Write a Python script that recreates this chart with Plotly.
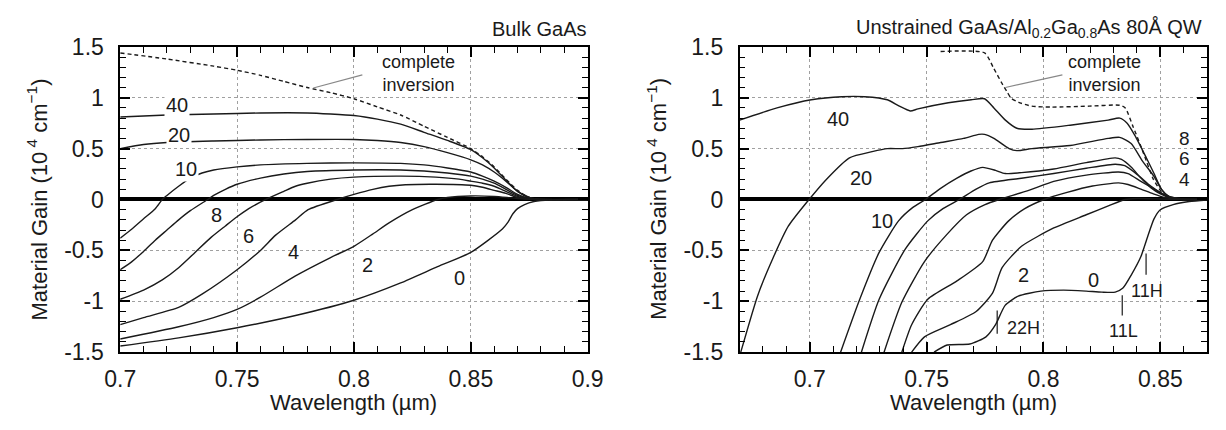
import plotly.graph_objects as go

# ---------------- DATA: left panel (Bulk GaAs) ----------------
L_inv_x = [0.70, 0.72, 0.74, 0.75, 0.76, 0.77, 0.78, 0.79, 0.80, 0.81, 0.82, 0.83, 0.84, 0.85, 0.855, 0.86, 0.865, 0.87, 0.875, 0.88, 0.90]
L_inv_y = [1.44, 1.38, 1.31, 1.27, 1.22, 1.16, 1.10, 1.05, 0.99, 0.91, 0.83, 0.72, 0.61, 0.50, 0.42, 0.32, 0.20, 0.09, 0.02, 0.0, 0.0]

L40_x = [0.70, 0.72, 0.74, 0.76, 0.78, 0.79, 0.80, 0.81, 0.82, 0.83, 0.84, 0.85, 0.855, 0.86, 0.865, 0.87, 0.875, 0.88, 0.90]
L40_y = [0.81, 0.83, 0.84, 0.85, 0.85, 0.84, 0.825, 0.79, 0.74, 0.66, 0.58, 0.49, 0.41, 0.31, 0.19, 0.08, 0.02, 0.0, 0.0]

L20_x = [0.70, 0.71, 0.72, 0.74, 0.76, 0.78, 0.80, 0.81, 0.82, 0.83, 0.84, 0.85, 0.855, 0.86, 0.865, 0.87, 0.875, 0.88, 0.90]
L20_y = [0.50, 0.54, 0.56, 0.575, 0.585, 0.59, 0.59, 0.58, 0.56, 0.52, 0.46, 0.39, 0.34, 0.27, 0.18, 0.08, 0.02, 0.0, 0.0]

L10_x = [0.70, 0.705, 0.71, 0.715, 0.718, 0.72, 0.725, 0.73, 0.735, 0.74, 0.75, 0.76, 0.78, 0.80, 0.82, 0.83, 0.84, 0.85, 0.855, 0.86, 0.865, 0.87, 0.875, 0.88, 0.90]
L10_y = [-0.38, -0.29, -0.19, -0.09, 0.0, 0.04, 0.13, 0.21, 0.26, 0.29, 0.32, 0.34, 0.355, 0.36, 0.355, 0.34, 0.31, 0.27, 0.23, 0.18, 0.12, 0.05, 0.01, 0.0, 0.0]

L8_x = [0.70, 0.705, 0.71, 0.715, 0.72, 0.725, 0.73, 0.7374, 0.74, 0.745, 0.75, 0.76, 0.77, 0.78, 0.80, 0.82, 0.83, 0.84, 0.85, 0.855, 0.86, 0.865, 0.87, 0.875, 0.88, 0.90]
L8_y = [-0.69, -0.61, -0.51, -0.40, -0.30, -0.20, -0.11, 0.0, 0.04, 0.10, 0.15, 0.21, 0.25, 0.275, 0.29, 0.29, 0.28, 0.26, 0.23, 0.20, 0.16, 0.10, 0.04, 0.01, 0.0, 0.0]

L6_x = [0.70, 0.71, 0.718, 0.725, 0.732, 0.739, 0.745, 0.75, 0.755, 0.7623, 0.77, 0.775, 0.78, 0.79, 0.80, 0.82, 0.835, 0.845, 0.85, 0.855, 0.86, 0.865, 0.87, 0.875, 0.88, 0.90]
L6_y = [-0.98, -0.89, -0.79, -0.67, -0.52, -0.37, -0.26, -0.17, -0.09, 0.0, 0.08, 0.13, 0.16, 0.20, 0.22, 0.23, 0.22, 0.20, 0.18, 0.16, 0.13, 0.08, 0.03, 0.01, 0.0, 0.0]

L4_x = [0.70, 0.71, 0.725, 0.735, 0.75, 0.76, 0.7665, 0.775, 0.7804, 0.7928, 0.80, 0.8081, 0.815, 0.822, 0.835, 0.85, 0.855, 0.86, 0.865, 0.87, 0.875, 0.88, 0.90]
L4_y = [-1.23, -1.16, -1.06, -0.93, -0.69, -0.50, -0.35, -0.20, -0.10, 0.0, 0.05, 0.10, 0.13, 0.145, 0.15, 0.14, 0.12, 0.09, 0.06, 0.02, 0.005, 0.0, 0.0]

L2_x = [0.70, 0.725, 0.74, 0.75, 0.76, 0.775, 0.79, 0.80, 0.808, 0.815, 0.825, 0.8358, 0.84, 0.85, 0.86, 0.87, 0.88, 0.90]
L2_y = [-1.37, -1.25, -1.16, -1.08, -0.96, -0.75, -0.57, -0.46, -0.34, -0.23, -0.10, 0.0, 0.02, 0.035, 0.03, 0.01, 0.0, 0.0]

L0_x = [0.70, 0.725, 0.75, 0.775, 0.80, 0.82, 0.8358, 0.85, 0.8635, 0.866, 0.868, 0.87, 0.873, 0.877, 0.88, 0.89, 0.90]
L0_y = [-1.44, -1.36, -1.26, -1.14, -0.99, -0.82, -0.66, -0.52, -0.29, -0.22, -0.14, -0.09, -0.05, -0.02, -0.01, 0.0, 0.0]

L_labels = ["40", "20", "10", "8", "6", "4", "2", "0"]
L_label_x = [0.7243, 0.7251, 0.7283, 0.7413, 0.7551, 0.7741, 0.806, 0.8452]
L_label_y = [0.93, 0.63, 0.30, -0.15, -0.36, -0.52, -0.64, -0.77]

# ---------------- DATA: right panel (QW) ----------------
R_inv_x = [0.756, 0.7748, 0.7788, 0.7821, 0.7845, 0.7862, 0.7894, 0.795, 0.8033, 0.8195, 0.8326, 0.835, 0.8383, 0.8415, 0.844, 0.847, 0.8505, 0.8537, 0.86, 0.87]
R_inv_y = [1.454, 1.44, 1.285, 1.147, 1.055, 0.994, 0.954, 0.917, 0.908, 0.917, 0.926, 0.90, 0.718, 0.534, 0.38, 0.20, 0.074, 0.012, 0.0, 0.0]

R40_x = [0.67, 0.686, 0.7007, 0.7137, 0.7235, 0.7332, 0.7381, 0.743, 0.7463, 0.7593, 0.7691, 0.7748, 0.7788, 0.7837, 0.7886, 0.7951, 0.8114, 0.8277, 0.8326, 0.8358, 0.8391, 0.844, 0.8472, 0.8505, 0.8537, 0.86, 0.87]
R40_y = [0.78, 0.90, 0.98, 1.01, 1.01, 0.98, 0.92, 0.87, 0.89, 0.95, 0.98, 0.99, 0.90, 0.78, 0.70, 0.69, 0.73, 0.78, 0.80, 0.75, 0.63, 0.41, 0.26, 0.10, 0.03, 0.005, 0.0]

R20_x = [0.6705, 0.6778, 0.6844, 0.6909, 0.699, 0.7072, 0.717, 0.7267, 0.7332, 0.7397, 0.7463, 0.756, 0.7658, 0.7723, 0.7748, 0.7788, 0.7853, 0.7886, 0.7951, 0.8114, 0.8277, 0.8326, 0.8375, 0.8423, 0.8472, 0.8505, 0.8537, 0.86, 0.87]
R20_y = [-1.5, -0.94, -0.57, -0.26, -0.02, 0.20, 0.41, 0.47, 0.50, 0.50, 0.52, 0.56, 0.60, 0.64, 0.64, 0.60, 0.50, 0.48, 0.50, 0.53, 0.60, 0.61, 0.55, 0.38, 0.23, 0.10, 0.03, 0.005, 0.0]

R10_x = [0.7132, 0.7214, 0.7297, 0.738, 0.744, 0.7495, 0.756, 0.763, 0.769, 0.774, 0.7795, 0.7836, 0.7906, 0.8044, 0.8183, 0.8307, 0.8334, 0.8376, 0.8417, 0.8459, 0.85, 0.8555, 0.86, 0.87]
R10_y = [-1.5, -0.98, -0.52, -0.21, -0.08, 0.0, 0.11, 0.21, 0.28, 0.316, 0.286, 0.255, 0.264, 0.30, 0.362, 0.409, 0.393, 0.316, 0.21, 0.117, 0.056, 0.01, 0.0, 0.0]

R8_x = [0.7221, 0.7297, 0.7408, 0.7505, 0.757, 0.764, 0.7712, 0.7768, 0.7906, 0.8044, 0.8183, 0.8307, 0.8348, 0.8404, 0.8459, 0.85, 0.8555, 0.86, 0.87]
R8_y = [-1.5, -0.98, -0.49, -0.21, -0.09, 0.0, 0.102, 0.163, 0.209, 0.255, 0.307, 0.347, 0.332, 0.24, 0.132, 0.071, 0.01, 0.0, 0.0]

R6_x = [0.7318, 0.7394, 0.7491, 0.7588, 0.7671, 0.775, 0.781, 0.7934, 0.8044, 0.8183, 0.8321, 0.8362, 0.8417, 0.8473, 0.852, 0.857, 0.86, 0.87]
R6_y = [-1.5, -1.01, -0.61, -0.34, -0.15, -0.05, 0.0, 0.087, 0.178, 0.24, 0.27, 0.255, 0.178, 0.102, 0.04, 0.01, 0.0, 0.0]

R4_x = [0.7394, 0.7436, 0.7505, 0.763, 0.774, 0.7782, 0.7851, 0.792, 0.8003, 0.8101, 0.821, 0.8321, 0.8362, 0.8417, 0.847, 0.852, 0.857, 0.86, 0.87]
R4_y = [-1.5, -1.23, -0.98, -0.80, -0.61, -0.40, -0.21, -0.09, 0.0, 0.07, 0.132, 0.163, 0.147, 0.102, 0.056, 0.02, 0.005, 0.0, 0.0]

R2_x = [0.7436, 0.7491, 0.7602, 0.7712, 0.7782, 0.7823, 0.7906, 0.8044, 0.8183, 0.828, 0.8349, 0.84, 0.85, 0.86, 0.87]
R2_y = [-1.5, -1.35, -1.23, -1.10, -0.92, -0.67, -0.46, -0.28, -0.15, -0.06, 0.0, 0.01, 0.005, 0.0, 0.0]

R0_x = [0.7532, 0.7588, 0.7685, 0.7754, 0.7795, 0.7836, 0.7892, 0.7989, 0.8086, 0.8183, 0.825, 0.8307, 0.834, 0.8376, 0.8417, 0.8445, 0.8473, 0.85, 0.8555, 0.8624, 0.87]
R0_y = [-1.5, -1.43, -1.42, -1.35, -1.23, -1.04, -0.95, -0.90, -0.89, -0.90, -0.91, -0.91, -0.87, -0.74, -0.56, -0.37, -0.19, -0.10, -0.05, -0.02, -0.005]

R_labels = ["40", "20", "10", "2", "0", "8", "6", "4"]
R_label_x = [0.712, 0.7218, 0.7311, 0.7913, 0.8212, 0.8605, 0.8605, 0.8605]
R_label_y = [0.79, 0.21, -0.21, -0.74, -0.79, 0.60, 0.40, 0.20]

# transition markers (22H, 11L, 11H)
mark_names = ["22H", "11L", "11H"]
mark_x = [0.7802, 0.8337, 0.8439]
mark_top = [-1.09, -0.94, -0.53]
mark_bot = [-1.32, -1.14, -0.74]
mark_label_x = [0.7913, 0.8342, 0.8443]
mark_label_y = [-1.26, -1.29, -0.895]

# axis ticks
L_xticks = [0.7, 0.75, 0.8, 0.85, 0.9]
L_xticktext = ["0.7", "0.75", "0.8", "0.85", "0.9"]
R_xticks = [0.7, 0.75, 0.8, 0.85]
R_xticktext = ["0.7", "0.75", "0.8", "0.85"]
yticks = [-1.5, -1.0, -0.5, 0.0, 0.5, 1.0, 1.5]
yticktext = ["-1.5", "-1", "-0.5", "0", "0.5", "1", "1.5"]

# ---------------- FIGURE ----------------
FONT = "Liberation Sans, Arial, Helvetica, sans-serif"
INK = "#1a1a1a"
W, H = 1226, 430

fig = go.Figure()

def curve(x, y, xa, ya, dash=None):
    fig.add_trace(go.Scatter(x=x, y=y, xaxis=xa, yaxis=ya, mode="lines",
                             line=dict(color=INK, width=1.4, dash=dash, shape="spline", smoothing=0.6),
                             hoverinfo="skip", showlegend=False))

for xs, ys in [(L40_x, L40_y), (L20_x, L20_y), (L10_x, L10_y), (L8_x, L8_y),
               (L6_x, L6_y), (L4_x, L4_y), (L2_x, L2_y), (L0_x, L0_y)]:
    curve(xs, ys, "x", "y")
curve(L_inv_x, L_inv_y, "x", "y", dash="4px,3px")

for xs, ys in [(R40_x, R40_y), (R20_x, R20_y), (R10_x, R10_y), (R8_x, R8_y),
               (R6_x, R6_y), (R4_x, R4_y), (R2_x, R2_y), (R0_x, R0_y)]:
    curve(xs, ys, "x2", "y2")
curve(R_inv_x, R_inv_y, "x2", "y2", dash="4px,3px")

# marker ticks
for mx, mt, mb in zip(mark_x, mark_top, mark_bot):
    fig.add_trace(go.Scatter(x=[mx, mx], y=[mt, mb], xaxis="x2", yaxis="y2", mode="lines",
                             line=dict(color=INK, width=1.2), hoverinfo="skip", showlegend=False))

# pointer lines for "complete inversion"
ptr_L_x = [0.8036, 0.7826]
ptr_L_y = [1.224, 1.095]
ptr_R_x = [0.8081, 0.7837]
ptr_R_y = [1.224, 1.10]
fig.add_trace(go.Scatter(x=ptr_L_x, y=ptr_L_y, xaxis="x", yaxis="y", mode="lines",
                         line=dict(color="#888", width=1.2), hoverinfo="skip", showlegend=False))
fig.add_trace(go.Scatter(x=ptr_R_x, y=ptr_R_y, xaxis="x2", yaxis="y2", mode="lines",
                         line=dict(color="#888", width=1.2), hoverinfo="skip", showlegend=False))

def xax(rng, tv, tt, domain):
    return dict(domain=domain, range=rng, tickvals=tv, ticktext=tt,
                ticks="inside", ticklen=10, tickwidth=1.5, tickcolor="black",
                showline=True, linecolor="black", linewidth=1.5, mirror="allticks",
                showgrid=True, gridcolor="#a0a0a0", griddash="dot", gridwidth=1,
                zeroline=False, tickfont=dict(family=FONT, size=23, color=INK),
                ticklabelstandoff=5,
                minor=dict(dtick=0.01, tick0=0.7, ticks="inside", ticklen=6,
                           tickcolor="black", tickwidth=1.2, showgrid=False))

def yax(domain):
    return dict(domain=domain, range=[-1.5, 1.5], tickvals=yticks, ticktext=yticktext,
                ticks="inside", ticklen=10, tickwidth=1.5, tickcolor="black",
                showline=True, linecolor="black", linewidth=1.5, mirror="allticks",
                showgrid=True, gridcolor="#a0a0a0", griddash="dot", gridwidth=1,
                zeroline=True, zerolinecolor="black", zerolinewidth=3.5,
                tickfont=dict(family=FONT, size=23, color=INK),
                ticklabelstandoff=10,
                minor=dict(dtick=0.1, tick0=0, ticks="inside", ticklen=6,
                           tickcolor="black", tickwidth=1.2, showgrid=False))

ydom = [1 - 361 / H, 1 - 36 / H]
fig.update_layout(
    width=W, height=H, margin=dict(l=0, r=0, t=0, b=0),
    paper_bgcolor="white", plot_bgcolor="white", showlegend=False,
    xaxis=xax([0.7, 0.9], L_xticks, L_xticktext, [107 / W, 587 / W]),
    yaxis=dict(anchor="x", **yax(ydom)),
    xaxis2=dict(anchor="y2", **xax([0.67, 0.87], R_xticks, R_xticktext, [743 / W, 1223 / W])),
    yaxis2=dict(anchor="x2", **yax(ydom)),
)

ann = []
lab_font = dict(family=FONT, size=20, color=INK)
for t, x, y in zip(L_labels, L_label_x, L_label_y):
    a = dict(text=t, x=x, y=y, xref="x", yref="y", showarrow=False, font=lab_font)
    if t in ("40", "20", "10"):
        a["bgcolor"] = "white"
    ann.append(a)
for t, x, y in zip(R_labels, R_label_x, R_label_y):
    ann.append(dict(text=t, x=x, y=y, xref="x2", yref="y2", showarrow=False,
                    font=dict(family=FONT, size=19 if t in ("8", "6", "4") else 20, color=INK),
                    borderpad=0))
for t, x, y in zip(mark_names, mark_label_x, mark_label_y):
    ann.append(dict(text=t, x=x, y=y, xref="x2", yref="y2", showarrow=False,
                    font=dict(family=FONT, size=18, color=INK)))

ci_font = dict(family=FONT, size=18, color=INK)
ann.append(dict(text="complete<br>inversion", x=0.8276, y=1.235, xref="x", yref="y",
                showarrow=False, font=ci_font, align="center"))
ann.append(dict(text="complete<br>inversion", x=0.826, y=1.238, xref="x2", yref="y2",
                showarrow=False, font=ci_font, align="center"))

# panel titles
ann.append(dict(text="Bulk GaAs", x=587 / W, y=1 - 17 / H, xref="paper", yref="paper",
                xanchor="right", yanchor="middle", showarrow=False,
                font=dict(family=FONT, size=20, color=INK)))
ann.append(dict(text="Unstrained GaAs/Al<sub>0.2</sub>Ga<sub>0.8</sub>As 80Å QW",
                x=1220 / W, y=1 - 17 / H, xref="paper", yref="paper",
                xanchor="right", yanchor="middle", showarrow=False,
                font=dict(family=FONT, size=20, color=INK)))

# axis titles
ytitle = "Material Gain (10<sup> 4</sup> cm<sup>−1</sup>)"
for xpx in (22, 658):
    ann.append(dict(text=ytitle, x=xpx / W, y=1 - 198 / H, xref="paper", yref="paper",
                    xanchor="center", yanchor="middle", textangle=-90, showarrow=False,
                    font=dict(family=FONT, size=22, color=INK)))
for xpx in (347, 983):
    ann.append(dict(text="Wavelength (µm)", x=xpx / W, y=1 - 415 / H, xref="paper", yref="paper",
                    xanchor="center", yanchor="middle", showarrow=False,
                    font=dict(family=FONT, size=22, color=INK)))

fig.update_layout(annotations=ann)
fig.write_html("out.html",
               config={"displayModeBar": False},
               post_script="document.body.style.margin='0';document.body.style.overflow='hidden';")
